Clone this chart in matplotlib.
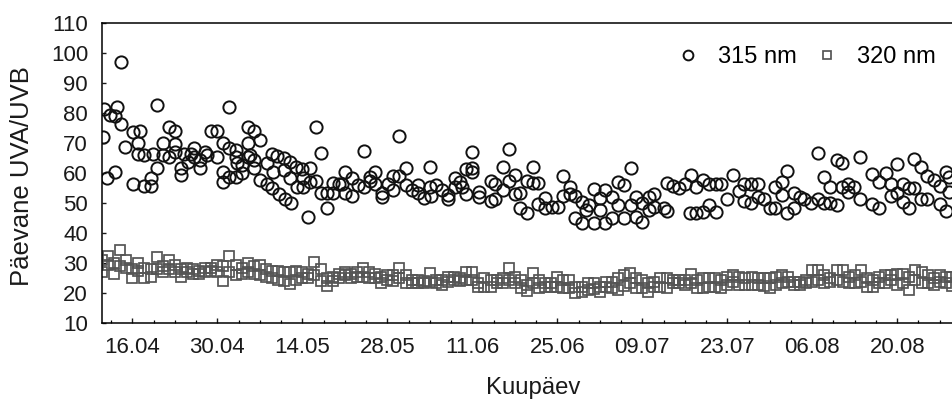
import matplotlib
matplotlib.use('Agg')
import matplotlib.pyplot as plt
from matplotlib.ticker import FixedLocator
import numpy as np

plt.rcParams['font.family'] = ['Liberation Sans', 'DejaVu Sans']

# 315 nm: day of year, daily UVA/UVB ratio
c_day = [101.2, 101.4, 101.9, 102.4, 103.2, 103.2, 103.4, 104.1, 104.1, 104.8,
         106.1, 106.1, 107.2, 107.0, 107.0, 108.0, 108.0, 109.1, 109.1, 110.1,
         110.1, 109.4, 111.1, 111.1, 112.0, 113.1, 112.1, 113.1, 113.1, 114.0,
         114.0, 114.5, 115.1, 115.6, 116.1, 116.1, 117.1, 117.1, 118.0, 118.3,
         119.0, 120.0, 120.0, 121.0, 121.0, 121.0, 122.0, 122.0, 122.0, 123.0,
         123.1, 123.1, 123.3, 124.1, 124.1, 125.0, 125.0, 125.0, 125.3, 126.0,
         126.1, 126.1, 127.1, 127.1, 128.1, 128.1, 129.0, 129.0, 129.2, 129.9,
         130.1, 131.0, 131.0, 131.2, 132.0, 132.1, 132.0, 133.0, 133.1, 134.0,
         134.1, 134.1, 135.0, 135.2, 135.3, 136.2, 136.3, 137.0, 137.0, 138.1,
         138.1, 139.1, 139.1, 140.0,
         140.6, 141.1, 141.1, 142.2, 142.2, 143.1, 144.1, 144.1, 145.1, 145.1,
         146.0, 146.0, 147.1, 147.1, 148.1, 149.0, 149.0, 150.0, 150.0, 151.1,
         151.1, 152.1, 153.0, 153.0, 154.0, 155.0, 155.0, 155.2, 156.1, 157.0,
         158.0, 158.0, 159.1, 159.1, 160.0, 160.3, 161.0, 161.0, 162.0, 162.0,
         162.0, 163.1, 163.1, 165.0, 165.0, 165.8, 165.8, 167.1, 167.1, 168.0,
         168.0, 169.1, 169.1, 169.9, 169.9, 171.0, 171.0, 172.0, 172.0, 172.9,
         172.9, 174.0, 174.0, 175.2, 176.1, 177.0, 177.0, 178.1, 178.1, 179.0,
         179.0, 180.1, 180.1, 181.2, 180.8, 182.0, 182.0, 183.0, 183.0, 183.9,
         183.9, 185.0, 185.0, 186.0, 186.0, 187.0, 187.0, 188.1, 188.1, 188.9,
         188.9, 190.0, 190.0, 191.1, 191.1, 192.0, 192.0,
         193.5, 194.1, 194.0, 195.1, 196.0, 197.0, 198.0, 197.9, 198.9, 198.9,
         200.0, 200.0, 201.0, 201.0, 202.1, 202.1, 203.0, 204.0, 205.0, 205.9,
         206.8, 206.8, 207.9, 207.9, 209.0, 209.0, 210.0, 211.0, 211.9, 211.9,
         213.1, 213.1, 213.9, 213.9, 215.0, 215.0, 216.0, 216.7, 217.8, 218.9,
         218.9, 219.9, 219.9, 221.0, 221.0, 222.0, 222.0, 222.9, 222.9, 223.9,
         223.9, 224.8, 225.8, 225.8, 227.9, 227.9, 229.0, 229.0, 230.1, 230.9,
         230.9, 232.0, 232.0, 233.0, 233.0, 233.9, 233.9, 234.8, 234.8, 235.9,
         235.9, 236.9, 236.9, 238.0, 239.1, 239.1, 240.1, 240.1, 240.5, 240.5]
c_val = [72.2, 81.5, 58.4, 79.4, 79.2, 60.5, 82.2, 76.4, 97.2, 68.9,
         56.6, 73.9, 74.2, 70.0, 66.6, 66.1, 55.8, 55.8, 58.6, 61.7,
         82.8, 66.6, 70.0, 66.1, 75.5, 74.2, 65.3, 69.8, 67.2, 59.4,
         61.7, 66.6, 63.9, 66.6, 68.3, 65.5, 61.7, 64.4, 67.2, 66.1,
         74.2, 74.2, 65.3, 70.0, 60.5, 57.2, 82.0, 58.9, 68.6, 58.9,
         67.8, 65.5, 63.5, 62.8, 60.0, 75.5, 70.0, 65.5, 66.1, 61.7,
         74.2, 64.4, 71.1, 57.8, 63.3, 56.4, 66.6, 55.0, 60.5, 65.8,
         53.1, 65.0, 61.1, 51.6, 63.9, 50.0, 58.3, 62.2, 55.5, 61.3,
         58.3, 55.5, 45.3, 61.7, 57.2, 75.5, 57.5, 66.9, 53.3, 48.6,
         53.3, 56.9, 53.3, 56.4,
         56.4, 60.5, 53.3, 58.3, 52.4, 56.1, 67.5, 55.5, 58.7, 57.5,
         60.5, 56.4, 53.3, 52.0, 56.4, 59.1, 54.4, 72.4, 59.1, 61.7,
         56.1, 54.4, 56.1, 53.3, 51.7, 62.2, 55.5, 52.4, 56.1, 54.4,
         52.8, 51.3, 58.3, 55.3, 57.2, 55.5, 53.1, 61.3, 67.2, 61.7,
         60.5, 53.9, 52.0, 57.5, 50.9, 56.4, 51.3, 62.0, 54.4, 68.0,
         57.5, 59.4, 53.1, 48.3, 53.3, 46.9, 57.5, 62.0, 56.9, 56.9,
         49.8, 51.7, 48.3, 48.7, 48.7, 59.1, 52.4, 55.3, 53.1, 45.0,
         52.4, 43.3, 50.5, 49.4, 47.8, 43.3, 54.7, 51.7, 47.8, 43.5,
         54.4, 52.0, 45.0, 57.2, 49.4, 56.1, 45.0, 61.7, 49.4, 52.0,
         45.5, 50.0, 43.9, 52.0, 47.8, 53.1, 48.9,
         48.3, 47.5, 56.9, 55.8, 55.0, 56.4, 59.4, 46.9, 46.9, 55.5,
         47.2, 57.8, 49.4, 56.4, 47.2, 56.4, 56.4, 51.6, 59.4, 54.2,
         56.4, 50.9, 56.4, 50.0, 56.4, 52.2, 51.3, 48.3, 48.3, 55.5,
         57.2, 52.8, 46.9, 60.9, 53.3, 48.3, 52.2, 51.3, 50.2, 66.9,
         51.3, 58.9, 50.2, 55.5, 50.0, 64.4, 49.4, 63.5, 55.5, 56.4,
         53.9, 55.5, 65.5, 51.6, 59.8, 49.8, 48.3, 57.2, 60.0, 52.4,
         56.4, 63.1, 53.3, 56.4, 50.5, 48.3, 55.0, 64.7, 55.0, 62.0,
         51.3, 59.1, 51.3, 57.8, 55.8, 49.8, 60.5, 47.5, 58.9, 53.9]

# 320 nm: two readings per day, days 101..241
s_hi = [31, 32.5, 30, 34.4, 31, 28, 30, 28.5, 28, 32, 29, 31, 29.5, 28, 28.5, 28,
        27.5, 28.5, 28.5, 29.5, 29, 32.5, 29.5, 28.5, 30, 29, 29.5, 28, 27.5, 27.5,
        27, 27, 27.5, 27, 26.5, 30.5, 28, 25, 25.5, 26.5, 27, 26.5, 27, 28.5, 27,
        26.5, 25.5, 26,
        26, 28.3, 26, 24.5, 24.4, 24, 26.7, 24.4, 24.4, 25.5, 25.5, 25, 27.2, 27.2,
        23.3, 25, 24.4, 24.4, 25, 28.3, 25.5, 24.4, 22.8, 26.7, 24.4, 23.3, 23.3,
        25.5, 24.4, 24.4, 22.2, 22.2, 23.3, 23.3, 22.2, 23.9, 23.9, 25, 26.1, 26.7,
        25, 24.4, 23.3, 23.9, 25, 25, 24.4, 24.4,
        24.4, 26.6, 24.4, 25, 25, 25, 24.4, 25.5, 26.1, 25.5, 25, 25.5, 25, 25, 25,
        25.5, 26.1, 25.5, 23.9, 23.9, 24.4, 27.8, 27.8, 26.1, 25, 27.8, 27.8, 25.5,
        26, 27.8, 25, 24.4, 25.5, 26.1, 26.1, 26.6, 26.6, 25.5, 27.8, 27.2, 26.1,
        25, 26.1, 25.5, 25.5]
s_lo = [27, 29.5, 26.5, 29, 28.5, 25, 27.5, 25, 25.5, 28, 27, 28, 27, 25.5, 27, 26.5,
        26.5, 27, 27.5, 27, 24, 27, 26, 26.5, 27, 26.5, 26, 25.5, 25, 24.5, 24, 23,
        24.5, 25, 25, 26, 24, 22.5, 24, 25, 26, 25, 25.5, 25.5, 25, 25, 23.5, 24.5,
        24, 25, 23.3, 23.5, 23.3, 23.3, 23.9, 23.3, 22.8, 23.9, 24.4, 24, 24.4, 24.4,
        22.2, 22.2, 22.2, 23.3, 23.3, 24.4, 23.5, 21.7, 20.8, 23.3, 21.7, 22.2, 22.2,
        22.2, 21.7, 21.7, 20, 20.5, 21.1, 21.5, 20.5, 22.2, 21.7, 21.1, 22.5, 23.3,
        21.7, 21.7, 20.5, 22.2, 22.2, 21.7, 23.3, 23.3,
        22.8, 23.5, 21.7, 21.7, 22.2, 22.2, 21.7, 22.8, 23.9, 22.8, 22.8, 22.8, 22.8,
        22.5, 21.7, 22.8, 23.3, 23.9, 22.8, 22.8, 23.3, 23.9, 24.4, 23.3, 23.9, 24.4,
        23.9, 23.3, 23.3, 23.9, 22.2, 22.2, 23.3, 23.3, 24.4, 22.8, 23.3, 21.1, 24.4,
        23.3, 23.3, 22.8, 23.9, 23.3, 22.5]
s_day = np.arange(101, 101 + len(s_hi))

tick_days = [106, 120, 134, 148, 162, 176, 190, 204, 218, 232]
tick_labels = ['16.04', '30.04', '14.05', '28.05', '11.06', '25.06',
               '09.07', '23.07', '06.08', '20.08']
y_ticks = list(range(10, 111, 10))

W, H = 952, 401
fig = plt.figure(figsize=(W / 100, H / 100), dpi=100)
ax = fig.add_axes([102 / W, 1 - 323.3 / H, 862 / W, 300 / H])

sq_col = '#555555'
h2, = ax.plot(s_day, s_hi, ls='none', marker='s', ms=7.9, mfc='none',
              mec=sq_col, mew=1.25, label='320 nm')
ax.plot(s_day, s_lo, ls='none', marker='s', ms=7.9, mfc='none',
        mec=sq_col, mew=1.25)
h1, = ax.plot(c_day, c_val, ls='none', marker='o', ms=8.8, mfc='none',
              mec='#111111', mew=1.4, label='315 nm')

ax.set_xlim(101, 243)
ax.set_ylim(10, 110)
ax.xaxis.set_major_locator(FixedLocator(tick_days))
ax.xaxis.set_minor_locator(FixedLocator([106 + 3.5 * k for k in range(-1, 39)]))
ax.set_xticklabels(tick_labels)
ax.set_yticks(y_ticks)

ax.tick_params(axis='x', which='major', direction='in', length=3.8, width=1.0,
               labelsize=16, pad=10, colors='#1a1a1a')
ax.tick_params(axis='x', which='minor', direction='in', length=2.2, width=0.9)
ax.tick_params(axis='y', which='major', direction='in', length=3.2, width=1.0,
               labelsize=16, pad=10, colors='#1a1a1a')
for sp in ax.spines.values():
    sp.set_linewidth(1.1)

ax.set_xlabel('Kuupäev', fontsize=17.2, va='center', color='#1a1a1a')
ax.xaxis.set_label_coords(0.5, (323.3 - 388) / 300)
ax.set_ylabel('Päevane UVA/UVB', fontsize=18.5, va='center', ha='center',
              color='#1a1a1a')
ax.yaxis.set_label_coords((22 - 102) / 862, (323.3 - 176) / 300)

ax.legend(handles=[h1, h2], loc='center', bbox_to_anchor=(806 / W, 1 - 57 / H),
          bbox_transform=fig.transFigure, ncol=2, frameon=False, fontsize=17,
          handlelength=1.0, handletextpad=0.8, columnspacing=0.75, markerscale=0.8)

fig.savefig('out.png', dpi=100)
